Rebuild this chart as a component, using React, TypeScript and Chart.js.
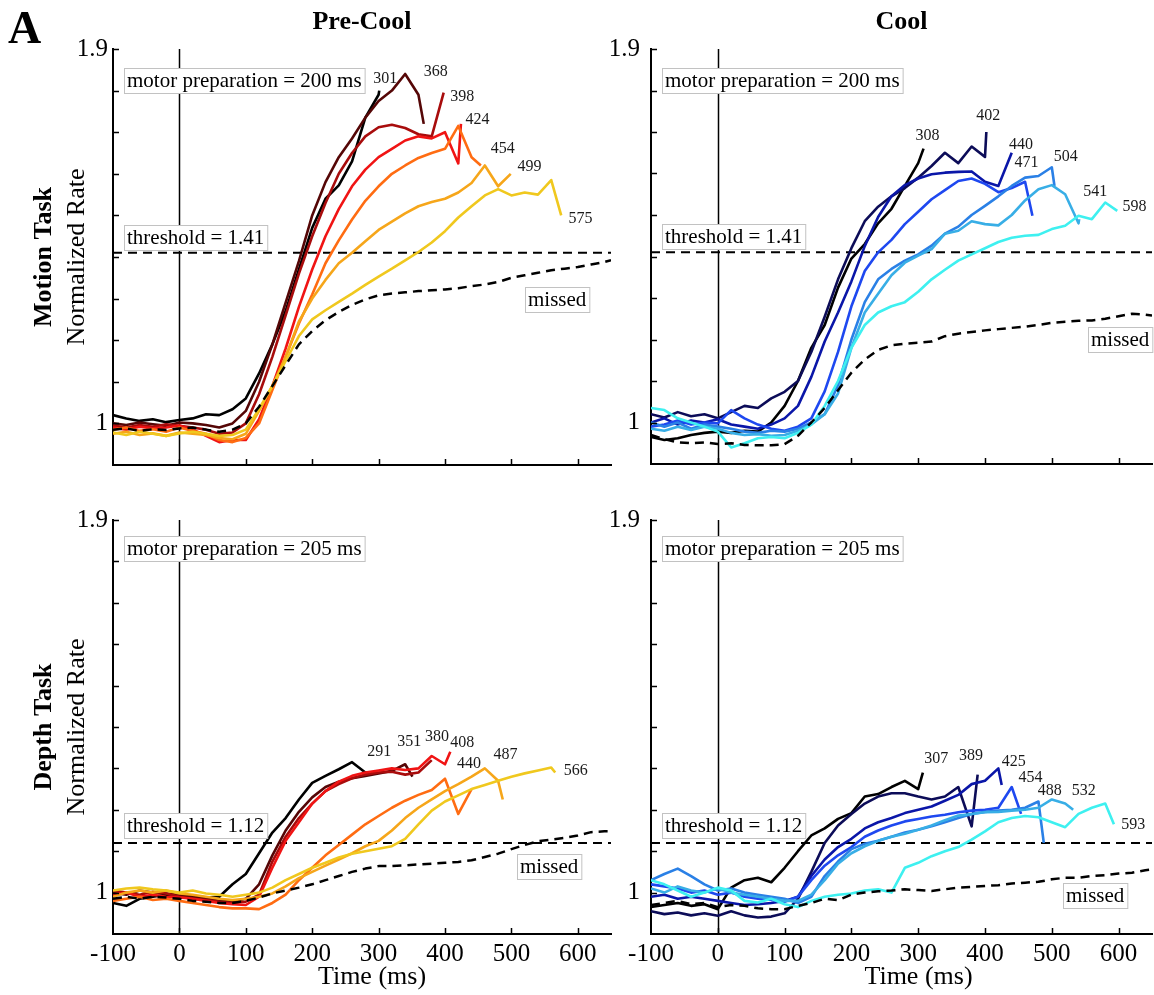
import { useEffect, useRef } from "react"
import { Chart, registerables } from "chart.js"

Chart.register(...registerables)

const SERIF = '"Liberation Serif", "Times New Roman", serif'

// Time sampling of the traces (ms)
const T_START = -100
const T_STEP = 20
const T_END = 650

// Axis ticks
const X_TICKS = [-100, 0, 100, 200, 300, 400, 500, 600]
const Y_MIN = 0.9
const Y_MAX = 1.9
const Y_LABELLED = [1, 1.9]

// Reaction time groups (ms) — each trace ends at its RT
const RT_MOTION_PRE = [301, 368, 398, 424, 454, 499, 575]
const RT_MOTION_COOL = [308, 402, 440, 471, 504, 541, 598]
const RT_DEPTH_PRE = [291, 351, 380, 408, 440, 487, 566]
const RT_DEPTH_COOL = [307, 389, 425, 454, 488, 532, 593]

const MOTOR_PREP_MOTION = 200
const MOTOR_PREP_DEPTH = 205
const THRESHOLD_MOTION = 1.41
const THRESHOLD_DEPTH = 1.12

// Normalized rate, one value every 20 ms from -100 ms, last value at the RT
const MOTION_PRE = [
  [1.02, 1.012, 1.006, 1.01, 1.003, 1.008, 1.012, 1.022, 1.02, 1.034, 1.06, 1.12, 1.19, 1.27, 1.37, 1.47, 1.54, 1.572, 1.63, 1.735, 1.79, 1.8],
  [1.0, 0.996, 1.002, 0.998, 0.994, 1.002, 1.0, 0.996, 0.99, 1.0, 1.03, 1.1, 1.19, 1.29, 1.39, 1.5, 1.58, 1.64, 1.685, 1.735, 1.775, 1.8, 1.84, 1.79, 1.72],
  [0.995, 0.99, 0.996, 0.992, 0.998, 0.994, 0.99, 0.985, 0.975, 0.978, 1.0, 1.07, 1.16, 1.26, 1.36, 1.45, 1.53, 1.6, 1.65, 1.69, 1.712, 1.718, 1.71, 1.695, 1.69, 1.795],
  [0.99, 0.985, 0.992, 0.988, 0.99, 0.995, 0.985, 0.97, 0.955, 0.96, 0.96, 1.01, 1.09, 1.18, 1.28, 1.37, 1.45, 1.515, 1.57, 1.61, 1.64, 1.66, 1.68, 1.69, 1.685, 1.7, 1.625, 1.72],
  [0.985, 0.99, 0.982, 0.986, 0.98, 0.99, 0.982, 0.975, 0.96, 0.955, 0.965, 1.0, 1.08, 1.16, 1.24, 1.31, 1.385, 1.44, 1.49, 1.535, 1.57, 1.6, 1.62, 1.638, 1.65, 1.66, 1.715, 1.64, 1.62],
  [0.975, 0.98, 0.972, 0.976, 0.97, 0.978, 0.975, 0.972, 0.965, 0.962, 0.975, 1.03, 1.09, 1.16, 1.245, 1.3, 1.345, 1.385, 1.41, 1.438, 1.465, 1.485, 1.505, 1.522, 1.532, 1.54, 1.555, 1.578, 1.62, 1.57, 1.6],
  [0.978, 0.972, 0.98, 0.975, 0.97, 0.976, 0.98, 0.975, 0.97, 0.972, 0.985, 1.035, 1.09, 1.15, 1.21, 1.25, 1.272, 1.292, 1.312, 1.333, 1.353, 1.372, 1.392, 1.412, 1.435, 1.462, 1.495, 1.522, 1.548, 1.563, 1.548, 1.555, 1.55, 1.585, 1.5],
]
const MOTION_PRE_MISSED = [0.985, 0.988, 0.982, 0.986, 0.984, 0.988, 0.99, 0.985, 0.98, 0.985, 1.0, 1.04, 1.09, 1.14, 1.19, 1.222, 1.248, 1.268, 1.285, 1.298, 1.308, 1.312, 1.315, 1.318, 1.32, 1.322, 1.325, 1.33, 1.334, 1.34, 1.35, 1.356, 1.362, 1.368, 1.372, 1.376, 1.382, 1.388, 1.392]

const MOTION_COOL = [
  [0.965, 0.958, 0.962, 0.97, 0.975, 0.978, 0.975, 0.98, 0.978, 1.0, 1.04, 1.1, 1.18, 1.235, 1.325, 1.395, 1.43, 1.48, 1.515, 1.57, 1.625, 1.66],
  [1.02, 1.012, 1.025, 1.015, 1.02, 1.01, 1.025, 1.04, 1.035, 1.058, 1.074, 1.1, 1.17, 1.255, 1.345, 1.42, 1.485, 1.52, 1.545, 1.565, 1.59, 1.618, 1.65, 1.625, 1.665, 1.64, 1.7],
  [1.0, 1.01, 0.995, 1.005, 1.0, 1.008, 0.995, 0.99, 0.985, 0.995, 1.01, 1.04, 1.11, 1.195, 1.265, 1.34, 1.425, 1.495, 1.545, 1.572, 1.588, 1.598, 1.602, 1.604, 1.605, 1.58, 1.57, 1.65],
  [0.99, 0.995, 1.005, 0.995, 1.0, 0.998, 1.03, 1.01, 0.995, 0.985, 0.98, 0.99, 1.01, 1.075, 1.17, 1.28, 1.365, 1.41, 1.44, 1.478, 1.508, 1.538, 1.56, 1.582, 1.588, 1.575, 1.555, 1.565, 1.58, 1.498],
  [1.0, 0.99, 1.0, 0.985, 0.995, 0.99, 0.985, 0.978, 0.975, 0.98, 0.978, 0.985, 1.0, 1.02, 1.09, 1.2, 1.29, 1.345, 1.37, 1.39, 1.405, 1.426, 1.455, 1.472, 1.5, 1.522, 1.545, 1.57, 1.59, 1.594, 1.615, 1.57],
  [0.985, 0.98, 0.99, 0.982, 0.99, 0.985, 0.975, 0.97, 0.972, 0.968, 0.97, 0.98, 0.995, 1.02, 1.07, 1.18, 1.265, 1.31, 1.355, 1.385, 1.402, 1.418, 1.455, 1.462, 1.485, 1.478, 1.475, 1.5, 1.535, 1.562, 1.572, 1.55, 1.48, 1.49],
  [1.035, 1.03, 1.01, 1.0, 0.99, 0.978, 0.94, 0.95, 0.962, 0.965, 0.962, 0.975, 0.995, 1.04, 1.1, 1.18, 1.235, 1.265, 1.28, 1.29, 1.315, 1.345, 1.368, 1.39, 1.405, 1.42, 1.435, 1.445, 1.45, 1.452, 1.466, 1.474, 1.498, 1.49, 1.53, 1.51],
]
const MOTION_COOL_MISSED = [0.97, 0.96, 0.952, 0.95, 0.952, 0.948, 0.95, 0.946, 0.945, 0.945, 0.948, 0.968, 1.0, 1.035, 1.078, 1.12, 1.152, 1.175, 1.186, 1.19, 1.192, 1.195, 1.208, 1.214, 1.218, 1.222, 1.225, 1.228, 1.231, 1.235, 1.24, 1.243, 1.245, 1.246, 1.25, 1.256, 1.262, 1.26, 1.258]

const DEPTH_PRE = [
  [0.975, 0.968, 0.985, 0.99, 0.995, 0.992, 0.99, 0.988, 0.99, 1.02, 1.045, 1.095, 1.145, 1.18, 1.225, 1.265, 1.282, 1.298, 1.315, 1.29, 1.29],
  [1.0, 0.995, 1.005, 1.0, 0.998, 0.995, 0.99, 0.985, 0.98, 0.978, 0.985, 1.02, 1.09, 1.15, 1.195, 1.23, 1.255, 1.268, 1.276, 1.282, 1.288, 1.294, 1.31, 1.28],
  [1.005, 1.0, 0.995, 1.002, 0.998, 0.99, 0.985, 0.982, 0.978, 0.975, 0.978, 0.995, 1.075, 1.135, 1.18, 1.215, 1.245, 1.262, 1.276, 1.285, 1.29, 1.292, 1.285, 1.29, 1.32],
  [0.995, 1.0, 0.99, 0.995, 0.99, 0.988, 0.985, 0.98, 0.975, 0.972, 0.97, 0.99, 1.06, 1.125, 1.17, 1.215, 1.245, 1.268, 1.282, 1.29, 1.295, 1.3, 1.296, 1.3, 1.33, 1.31, 1.34],
  [0.98, 0.985, 0.99, 0.982, 0.985, 0.98, 0.975, 0.97, 0.965, 0.962, 0.962, 0.96, 0.975, 0.995, 1.03, 1.06, 1.09, 1.115, 1.14, 1.165, 1.185, 1.205, 1.222, 1.236, 1.248, 1.275, 1.19, 1.25],
  [0.99, 1.0, 1.005, 1.0, 1.005, 0.998, 0.995, 0.99, 0.985, 0.982, 0.985, 0.99, 0.998, 1.015, 1.035, 1.05, 1.065, 1.08, 1.095, 1.112, 1.125, 1.15, 1.18, 1.205, 1.225, 1.245, 1.262, 1.28, 1.3, 1.27, 1.225],
  [1.005, 1.01, 1.012, 1.008, 1.005, 1.0, 1.005, 0.998, 0.995, 0.99, 0.995, 1.0, 1.012, 1.03, 1.045, 1.06, 1.072, 1.085, 1.094, 1.1, 1.106, 1.112, 1.13, 1.165, 1.198, 1.22, 1.235, 1.25, 1.26, 1.27, 1.28, 1.288, 1.295, 1.302, 1.29],
]
const DEPTH_PRE_MISSED = [0.985, 0.99, 0.985, 0.99, 0.988, 0.985, 0.98, 0.978, 0.975, 0.975, 0.98, 0.988, 0.998, 1.005, 1.012, 1.02, 1.03, 1.04, 1.05, 1.058, 1.064, 1.064, 1.066, 1.068, 1.07, 1.072, 1.074, 1.078, 1.086, 1.094, 1.105, 1.115, 1.124, 1.128, 1.132, 1.138, 1.146, 1.148, 1.148]

const DEPTH_COOL = [
  [0.965, 0.97, 0.975, 0.968, 0.972, 0.96, 1.012, 1.03, 1.036, 1.025, 1.06, 1.1, 1.138, 1.155, 1.178, 1.192, 1.232, 1.238, 1.255, 1.27, 1.25, 1.29],
  [0.955, 0.948, 0.952, 0.945, 0.95, 0.944, 0.955, 0.945, 0.94, 0.942, 0.95, 0.985, 1.05, 1.12, 1.162, 1.19, 1.215, 1.232, 1.24, 1.24, 1.232, 1.225, 1.232, 1.255, 1.16, 1.285],
  [0.99, 0.995, 0.985, 0.99, 0.985, 0.98, 0.975, 0.97, 0.972, 0.975, 0.98, 0.99, 1.04, 1.08, 1.11, 1.13, 1.155, 1.17, 1.18, 1.192, 1.2, 1.208, 1.222, 1.236, 1.262, 1.27, 1.3, 1.26],
  [1.02, 1.015, 1.01, 1.0, 1.005, 0.995, 1.0, 0.99, 0.985, 0.982, 0.978, 0.99, 1.03, 1.065, 1.09, 1.11, 1.135, 1.15, 1.162, 1.172, 1.178, 1.184, 1.188, 1.194, 1.198, 1.2, 1.205, 1.255, 1.19],
  [1.03, 1.045, 1.058, 1.04, 1.02, 1.005, 1.01, 1.0, 0.995, 0.99, 0.985, 0.975, 0.99, 1.04, 1.075, 1.105, 1.118, 1.125, 1.135, 1.145, 1.152, 1.16, 1.17, 1.18, 1.19, 1.195, 1.198, 1.2, 1.205, 1.22, 1.12],
  [1.01, 1.0, 1.015, 1.005, 1.0, 1.01, 1.0, 0.995, 0.99, 0.985, 0.98, 0.98, 0.995, 1.03, 1.07, 1.095, 1.112, 1.125, 1.135, 1.142, 1.152, 1.162, 1.175, 1.186, 1.19, 1.194, 1.195, 1.198, 1.2, 1.205, 1.225, 1.215, 1.2],
  [1.03, 1.02, 1.005, 0.99, 1.0, 1.012, 1.005, 0.98, 0.976, 0.985, 0.972, 0.965, 0.98, 0.99, 0.995, 0.998, 1.005, 1.008, 1.0, 1.06, 1.072, 1.088, 1.1, 1.11, 1.128, 1.148, 1.17, 1.18, 1.185, 1.182, 1.17, 1.158, 1.19, 1.205, 1.215, 1.165],
]
const DEPTH_COOL_MISSED = [0.97, 0.975, 0.98, 0.972, 0.975, 0.965, 0.97, 0.968, 0.962, 0.96, 0.96, 0.968, 0.975, 0.985, 0.982, 0.995, 1.0, 1.003, 1.005, 1.008, 1.006, 1.004, 1.008, 1.012, 1.014, 1.016, 1.018, 1.022, 1.024, 1.026, 1.032, 1.036, 1.036, 1.04, 1.042, 1.046, 1.048, 1.054, 1.056]

const WARM = ["#000000", "#550606", "#a80c0c", "#f01414", "#ff6c12", "#f6a61a", "#f0c81e"]
const COOL = ["#000000", "#0c0c58", "#0a16a8", "#1e48f0", "#2a80e6", "#38aee6", "#3ef0f0"]

type Pt = [number, number]

interface PanelDef {
  left: number
  top: number
  width: number
  height: number
  padding: { left: number; top: number; right: number; bottom: number }
  yAxisWidth: number
  xAxisHeight: number
  yTickPadding: number
  showXLabels: boolean
  title?: string
  rowLabel?: string
  letter?: string
  timeTitleShift?: number
  colors: string[]
  traces: number[][]
  rts: number[]
  missed: number[]
  threshold: number
  motorPrep: number
  rtLabelPos: Pt[]
  motorBox: Pt
  thresholdBox: Pt
  missedBox: Pt
}

// chart areas: left column x 113..611, right column x 651..1152,
// top row y 49..465, bottom row y 520..934
const PANELS: PanelDef[] = [
  {
    left: 0, top: 0, width: 620, height: 490,
    padding: { left: 53, top: 49, right: 9, bottom: 25 },
    yAxisWidth: 60, xAxisHeight: 0,
    yTickPadding: 5, showXLabels: false,
    title: "Pre-Cool", rowLabel: "Motion Task", letter: "A",
    colors: WARM, traces: MOTION_PRE, rts: RT_MOTION_PRE, missed: MOTION_PRE_MISSED,
    threshold: THRESHOLD_MOTION, motorPrep: MOTOR_PREP_MOTION,
    rtLabelPos: [[292, 1.829], [368, 1.846], [408, 1.786], [431, 1.73], [469, 1.66], [509, 1.617], [586, 1.492]],
    motorBox: [-84, 1.825], thresholdBox: [-84, 1.448], missedBox: [520, 1.298],
  },
  {
    left: 600, top: 0, width: 554, height: 490,
    padding: { left: 6, top: 49, right: 2, bottom: 25 },
    yAxisWidth: 45, xAxisHeight: 0,
    yTickPadding: 11, showXLabels: false,
    title: "Cool",
    colors: COOL, traces: MOTION_COOL, rts: RT_MOTION_COOL, missed: MOTION_COOL_MISSED,
    threshold: THRESHOLD_MOTION, motorPrep: MOTOR_PREP_MOTION,
    rtLabelPos: [[296, 1.69], [387, 1.738], [436, 1.669], [444, 1.625], [503, 1.641], [547, 1.556], [606, 1.52]],
    motorBox: [-83, 1.825], thresholdBox: [-83, 1.448], missedBox: [554, 1.2],
  },
  {
    left: 0, top: 490, width: 620, height: 505,
    padding: { left: 53, top: 30, right: 9, bottom: 21 },
    yAxisWidth: 60, xAxisHeight: 40,
    yTickPadding: 5, showXLabels: true,
    rowLabel: "Depth Task", timeTitleShift: 10,
    colors: WARM, traces: DEPTH_PRE, rts: RT_DEPTH_PRE, missed: DEPTH_PRE_MISSED,
    threshold: THRESHOLD_DEPTH, motorPrep: MOTOR_PREP_DEPTH,
    rtLabelPos: [[283, 1.34], [328, 1.364], [370, 1.376], [408, 1.362], [418, 1.312], [473, 1.332], [579, 1.294]],
    motorBox: [-84, 1.832], thresholdBox: [-84, 1.163], missedBox: [508, 1.064],
  },
  {
    left: 600, top: 490, width: 554, height: 505,
    padding: { left: 6, top: 30, right: 2, bottom: 21 },
    yAxisWidth: 45, xAxisHeight: 40,
    yTickPadding: 11, showXLabels: true,
    timeTitleShift: 17,
    colors: COOL, traces: DEPTH_COOL, rts: RT_DEPTH_COOL, missed: DEPTH_COOL_MISSED,
    threshold: THRESHOLD_DEPTH, motorPrep: MOTOR_PREP_DEPTH,
    rtLabelPos: [[309, 1.322], [361, 1.33], [425, 1.316], [450, 1.278], [479, 1.246], [530, 1.246], [604, 1.164]],
    motorBox: [-83, 1.832], thresholdBox: [-83, 1.163], missedBox: [517, 0.994],
  },
]

function trace(values: number[], end: number) {
  return values.map((y, i) => ({ x: Math.min(T_START + T_STEP * i, end), y }))
}

function drawBox(ctx: CanvasRenderingContext2D, text: string, x: number, yc: number) {
  ctx.font = `21px ${SERIF}`
  const w = ctx.measureText(text).width + 6
  const top = Math.round(yc - 12.5)
  ctx.fillStyle = "#fff"
  ctx.fillRect(Math.round(x), top, w, 25)
  ctx.strokeStyle = "#c2c2c2"
  ctx.lineWidth = 1
  ctx.strokeRect(Math.round(x) + 0.5, top + 0.5, w, 25)
  ctx.fillStyle = "#000"
  ctx.textAlign = "left"
  ctx.textBaseline = "middle"
  ctx.fillText(text, Math.round(x) + 3, top + 13.5)
}

function makeDecor(p: PanelDef) {
  return {
    id: "decor",
    beforeDatasetsDraw(chart: Chart) {
      const { ctx, chartArea: ca } = chart
      const x0 = Math.round(chart.scales.x.getPixelForValue(0)) + 0.5
      ctx.save()
      ctx.strokeStyle = "#000"
      ctx.lineWidth = 1.5
      ctx.beginPath()
      ctx.moveTo(x0, ca.top)
      ctx.lineTo(x0, ca.bottom)
      ctx.stroke()
      ctx.restore()
    },
    afterDatasetsDraw(chart: Chart) {
      const { ctx } = chart
      const xs = chart.scales.x
      const ys = chart.scales.y
      ctx.save()
      drawBox(ctx, `motor preparation = ${p.motorPrep} ms`, xs.getPixelForValue(p.motorBox[0]), ys.getPixelForValue(p.motorBox[1]))
      drawBox(ctx, `threshold = ${p.threshold.toFixed(2)}`, xs.getPixelForValue(p.thresholdBox[0]), ys.getPixelForValue(p.thresholdBox[1]))
      drawBox(ctx, "missed", xs.getPixelForValue(p.missedBox[0]), ys.getPixelForValue(p.missedBox[1]))
      ctx.font = `16px ${SERIF}`
      ctx.fillStyle = "#1a1a1a"
      ctx.textAlign = "left"
      ctx.textBaseline = "middle"
      p.rts.forEach((rt, i) => {
        const [t, v] = p.rtLabelPos[i]
        ctx.fillText(String(rt), xs.getPixelForValue(t), ys.getPixelForValue(v))
      })
      ctx.restore()
    },
    afterDraw(chart: Chart) {
      const { ctx, chartArea: ca } = chart
      const xs = chart.scales.x
      const ys = chart.scales.y
      ctx.save()
      // inward tick marks
      ctx.strokeStyle = "#000"
      ctx.lineWidth = 1.5
      ctx.beginPath()
      ys.ticks.forEach((t) => {
        if (t.value <= Y_MIN + 1e-6) return
        const py = Math.round(ys.getPixelForValue(t.value)) + 0.5
        ctx.moveTo(ca.left, py)
        ctx.lineTo(ca.left + 6, py)
      })
      X_TICKS.forEach((v) => {
        if (v <= T_START) return
        const px = Math.round(xs.getPixelForValue(v)) + 0.5
        ctx.moveTo(px, ca.bottom)
        ctx.lineTo(px, ca.bottom - 6)
      })
      ctx.stroke()

      ctx.fillStyle = "#000"
      ctx.textAlign = "center"
      ctx.textBaseline = "middle"
      const cx = (ca.left + ca.right) / 2
      const cy = (ca.top + ca.bottom) / 2
      if (p.title) {
        ctx.font = `bold 26px ${SERIF}`
        ctx.fillText(p.title, cx, ca.top - 27)
      }
      if (p.rowLabel) {
        ctx.save()
        ctx.translate(ca.left - 69, cy)
        ctx.rotate(-Math.PI / 2)
        ctx.font = `bold 26px ${SERIF}`
        ctx.fillText(p.rowLabel, 0, 0)
        ctx.restore()
        ctx.save()
        ctx.translate(ca.left - 36, cy)
        ctx.rotate(-Math.PI / 2)
        ctx.font = `26px ${SERIF}`
        ctx.fillText("Normalized Rate", 0, 0)
        ctx.restore()
      }
      if (p.showXLabels) {
        ctx.font = `26px ${SERIF}`
        ctx.fillText("Time (ms)", cx + (p.timeTitleShift ?? 0), ca.bottom + 43)
      }
      if (p.letter) {
        ctx.font = `bold 46px ${SERIF}`
        ctx.textAlign = "left"
        ctx.textBaseline = "alphabetic"
        ctx.fillText(p.letter, 8, 43)
      }
      ctx.restore()
    },
  }
}

function Panel({ p }: { p: PanelDef }) {
  const canvasRef = useRef<HTMLCanvasElement>(null)

  useEffect(() => {
    if (!canvasRef.current) return
    const datasets: any[] = [
      { data: trace(p.missed, T_END), borderColor: "#000", borderWidth: 2.5, borderDash: [9, 6] },
      ...p.traces.map((v, i) => ({ data: trace(v, p.rts[i]), borderColor: p.colors[i], borderWidth: 2.6 })).reverse(),
      {
        data: [{ x: T_START, y: p.threshold }, { x: T_END, y: p.threshold }],
        borderColor: "#000",
        borderWidth: 2,
        borderDash: [9, 6],
      },
    ]
    const tickFont = { family: SERIF, size: 25 }
    const chart = new Chart(canvasRef.current, {
      type: "line",
      data: { datasets },
      options: {
        responsive: false,
        animation: false,
        events: [],
        layout: { padding: p.padding },
        elements: { point: { radius: 0 }, line: { tension: 0, fill: false, borderJoinStyle: "round" } },
        plugins: { legend: { display: false }, tooltip: { enabled: false }, title: { display: false } },
        scales: {
          x: {
            type: "linear",
            min: T_START,
            max: T_END,
            grid: { display: false, drawTicks: false },
            border: { display: true, color: "#000", width: 2 },
            ticks: {
              display: p.showXLabels,
              stepSize: 100,
              includeBounds: false,
              autoSkip: false,
              maxRotation: 0,
              minRotation: 0,
              padding: 5,
              color: "#000",
              font: tickFont,
              callback: (v: any) => (X_TICKS.includes(Number(v)) ? String(v) : ""),
            },
            afterFit: (s: any) => {
              s.height = p.xAxisHeight
            },
          },
          y: {
            type: "linear",
            min: Y_MIN,
            max: Y_MAX,
            grid: { display: false, drawTicks: false },
            border: { display: true, color: "#000", width: 2 },
            ticks: {
              stepSize: 0.1,
              autoSkip: false,
              padding: p.yTickPadding,
              color: "#000",
              font: tickFont,
              callback: (v: any) => {
                const hit = Y_LABELLED.find((l) => Math.abs(Number(v) - l) < 1e-6)
                return hit === undefined ? "" : String(hit)
              },
            },
            afterFit: (s: any) => {
              s.width = p.yAxisWidth
            },
          },
        },
      },
      plugins: [makeDecor(p)],
    })
    return () => chart.destroy()
  }, [p])

  return (
    <canvas
      ref={canvasRef}
      width={p.width}
      height={p.height}
      style={{ position: "absolute", left: p.left, top: p.top, width: p.width, height: p.height }}
    />
  )
}

export default function App() {
  return (
    <div style={{ position: "absolute", left: 0, top: 0, width: 1154, height: 995, background: "#fff" }}>
      {PANELS.map((p, i) => (
        <Panel key={i} p={p} />
      ))}
    </div>
  )
}
